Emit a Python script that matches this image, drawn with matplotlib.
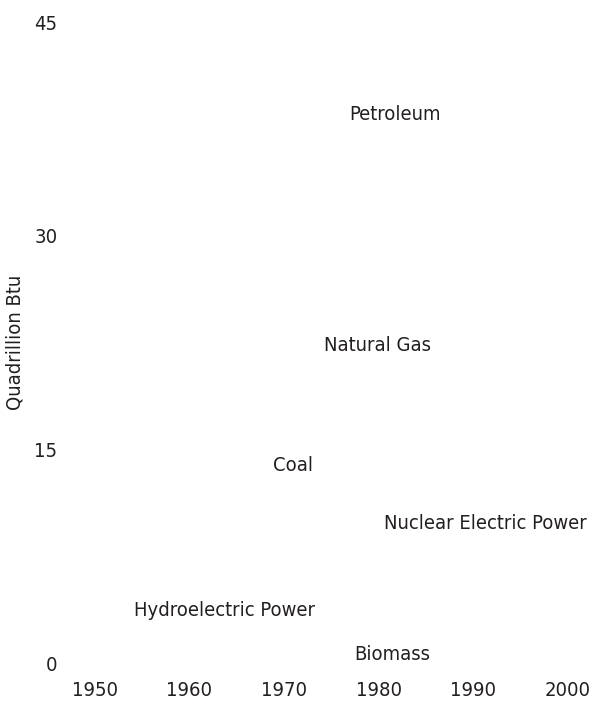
import matplotlib.pyplot as plt

plt.rcParams['font.family'] = ['DejaVu Sans']
plt.rcParams['font.stretch'] = 'condensed'

# series labels and where they sit (year, quadrillion Btu)
sources = ['Petroleum', 'Natural Gas', 'Coal', 'Nuclear Electric Power',
           'Hydroelectric Power', 'Biomass']
label_years = [1981.7, 1979.9, 1970.9, 1991.3, 1963.7, 1981.4]
label_values = [38.5, 22.3, 13.9, 9.8, 3.7, 0.6]

x_ticks = [1950, 1960, 1970, 1980, 1990, 2000]
y_ticks = [0, 15, 30, 45]

txt = '#231f20'
fs = 14.5

fig = plt.figure(figsize=(5.97, 7.04), dpi=100)
ax = fig.add_axes([0.159, 0.0582, 0.792, 0.9105])
ax.set_xlim(1950, 2000)
ax.set_ylim(0, 45)

for name, yr, val in zip(sources, label_years, label_values):
    ax.text(yr, val, name, ha='center', va='center', fontsize=fs, color=txt)

ax.set_xticks(x_ticks)
ax.set_yticks(y_ticks)
ax.tick_params(axis='both', length=0, labelsize=fs, colors=txt)
ax.tick_params(axis='y', pad=27)
ax.tick_params(axis='x', pad=13)
ax.set_ylabel('Quadrillion Btu', fontsize=fs, color=txt)
ax.yaxis.set_label_coords(-0.148, 0.5)

for s in ax.spines.values():
    s.set_visible(False)

fig.savefig('out.png', dpi=100)
